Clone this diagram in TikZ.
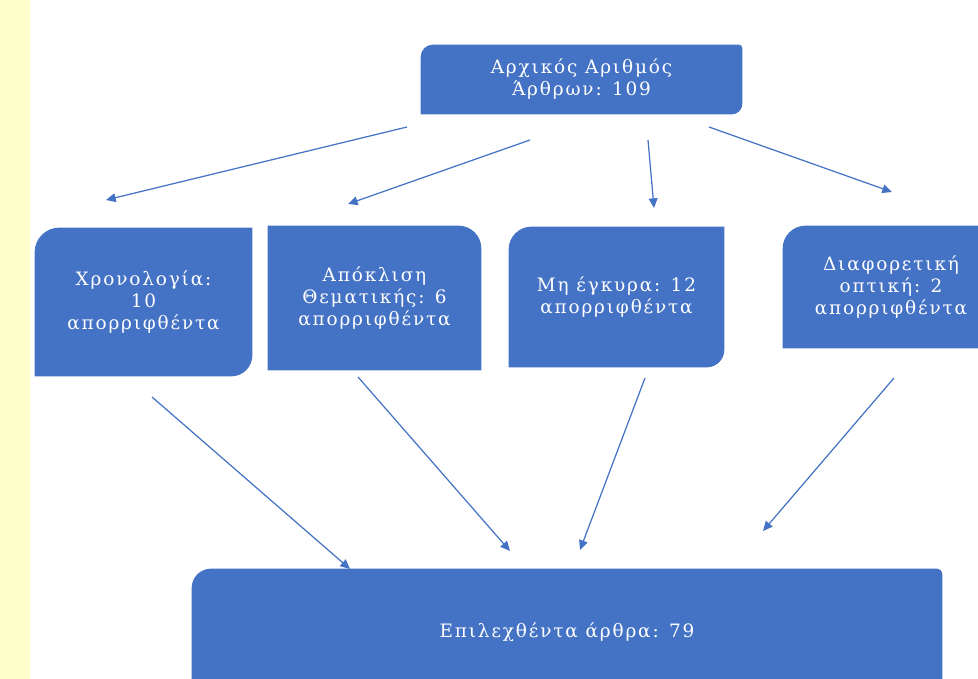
\documentclass[tikz,border=0pt]{standalone}
\usepackage{fontspec}
\setmainfont{DejaVu Serif}
\newfontfamily\widefont[LetterSpace=10]{DejaVu Serif}
\usetikzlibrary{arrows.meta,backgrounds}
\definecolor{boxblue}{HTML}{4472C4}
\definecolor{sidebar}{HTML}{FFFFCC}
% fill behind a node, each corner with its own rounding
\newcommand{\cornerfill}[5]{%
  \fill[boxblue] (#1.west) [#2] -- (#1.north west) -- (#1.north) [#3] -- (#1.north east) -- (#1.east) [#4] -- (#1.south east) -- (#1.south) [#5] -- (#1.south west) -- cycle;}
\begin{document}
\begin{tikzpicture}[x=0.02cm, y=-0.02cm,
  lbl/.style={text=white, align=center, inner sep=0pt, font=\fontsize{10.5}{12.5}\widefont},
  arr/.style={draw=boxblue, line width=0.7pt, -{Triangle[length=5.5pt,width=5pt]}}]
\clip (0,0) rectangle (978,679);

%boxes
\node[lbl, minimum width=321*0.02cm, minimum height=69*0.02cm] (start) at (581.5,79.5) {Αρχικός Αριθμός\\Άρθρων: 109};
\node[lbl, minimum width=217*0.02cm, minimum height=148*0.02cm] (chrono) at (143.5,302) {Χρονολογία:\\10\\απορριφθέντα};
\node[lbl, minimum width=213*0.02cm, minimum height=144*0.02cm] (theme) at (374.5,298) {Απόκλιση\\Θεματικής: 6\\απορριφθέντα};
\node[lbl, minimum width=215*0.02cm, minimum height=140*0.02cm] (invalid) at (616.5,297) {Μη έγκυρα: 12\\απορριφθέντα};
\node[lbl, minimum width=216*0.02cm, minimum height=122*0.02cm] (view) at (891,287) {Διαφορετική\\οπτική: 2\\απορριφθέντα};
\node[lbl, minimum width=750*0.02cm, minimum height=126*0.02cm] (chosen) at (567,632) {Επιλεχθέντα άρθρα: 79};

\begin{scope}[on background layer]
\fill[sidebar] (0,0) rectangle (30,679);
\cornerfill{start}{rounded corners=7pt}{rounded corners=2pt}{rounded corners=6pt}{sharp corners}
\cornerfill{chrono}{rounded corners=14pt}{sharp corners}{rounded corners=12pt}{sharp corners}
\cornerfill{theme}{sharp corners}{rounded corners=13pt}{sharp corners}{sharp corners}
\cornerfill{invalid}{rounded corners=13pt}{sharp corners}{rounded corners=10pt}{sharp corners}
\cornerfill{view}{rounded corners=13pt}{sharp corners}{sharp corners}{sharp corners}
\cornerfill{chosen}{rounded corners=11pt}{rounded corners=3pt}{sharp corners}{sharp corners}
\end{scope}

%arrow ends
\coordinate (s1) at (407,127); \coordinate (e1) at (106,200);
\coordinate (s2) at (530,140); \coordinate (e2) at (348,204);
\coordinate (s3) at (648,140); \coordinate (e3) at (654,208);
\coordinate (s4) at (709,127); \coordinate (e4) at (892,192);
\coordinate (s5) at (152,397); \coordinate (e5) at (350,569);
\coordinate (s6) at (358,377); \coordinate (e6) at (510,551);
\coordinate (s7) at (645,378); \coordinate (e7) at (580,550);
\coordinate (s8) at (894,378); \coordinate (e8) at (763,531);
\foreach \i in {1,...,8}{\draw[arr] (s\i) -- (e\i);}
\end{tikzpicture}
\end{document}
